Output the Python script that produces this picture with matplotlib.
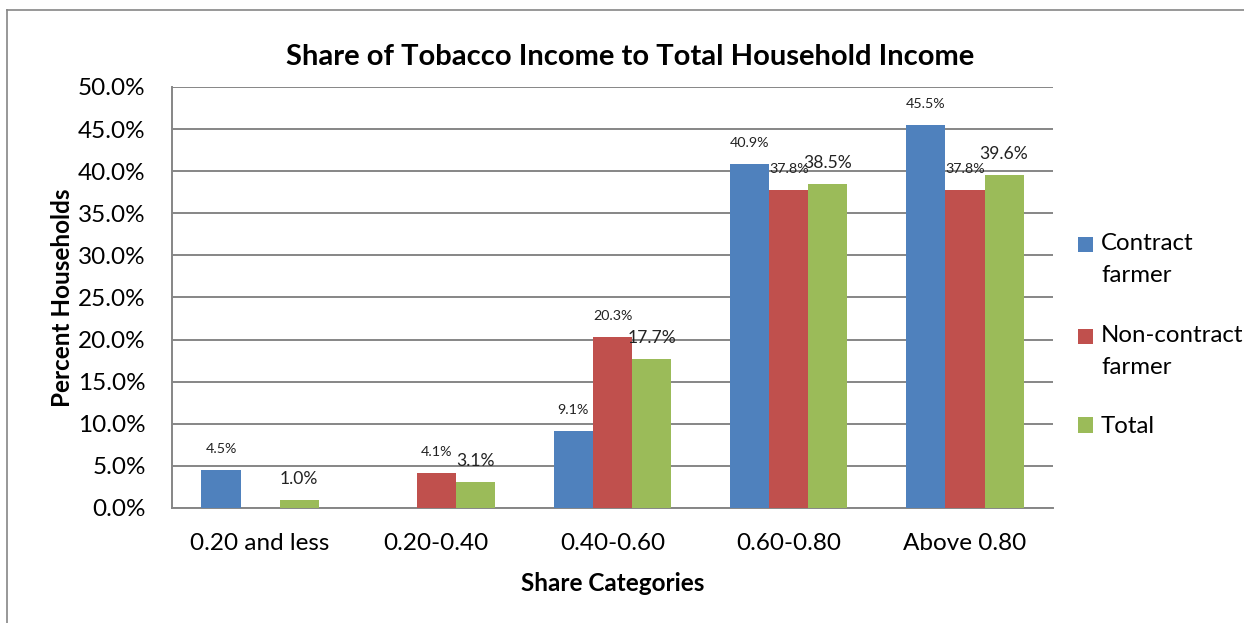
import matplotlib
matplotlib.use("Agg")
import matplotlib.pyplot as plt
from matplotlib.lines import Line2D
from matplotlib.patches import Rectangle
from matplotlib.legend_handler import HandlerPatch, update_from_first_child
from matplotlib.ticker import FuncFormatter
import numpy as np

plt.rcParams['font.family'] = ['Lato', 'DejaVu Sans']

categories = ['0.20 and less', '0.20-0.40', '0.40-0.60', '0.60-0.80', 'Above 0.80']
series_names = ['Contract\nfarmer', 'Non-contract\nfarmer', 'Total']
contract = [4.5, 0.0, 9.1, 40.9, 45.5]
non_contract = [0.0, 4.1, 20.3, 37.8, 37.8]
total = [1.0, 3.1, 17.7, 38.5, 39.6]
colors = ['#4F81BD', '#C0504D', '#9BBB59']

fig = plt.figure(figsize=[12.44, 6.23], dpi=100)
ax = fig.add_axes([0.1383, 0.1846, 0.7082, 0.6758])

x = np.arange(len(categories))
w = 0.222
all_series = [contract, non_contract, total]
label_sizes = [10.3, 10.3, 12.6]

bars = []
for i, vals in enumerate(all_series):
    pos = x + (i - 1) * w
    bars.append(ax.bar(pos, vals, width=w, color=colors[i], label=series_names[i], zorder=3))
    for p, v in zip(pos, vals):
        if v == 0:
            continue
        ax.annotate('{:.1f}%'.format(v), (p, v), xytext=(0, 21), textcoords='offset pixels',
                    ha='center', va='center', fontsize=label_sizes[i], color='#222222')

ax.set_xlim(-0.5, len(categories) - 0.5)
ax.set_ylim(0, 50)
ax.set_yticks(np.arange(0, 50.1, 5))
ax.yaxis.set_major_formatter(FuncFormatter(lambda v, p: '{:.1f}%'.format(v)))
ax.set_xticks(x)
ax.set_xticklabels(categories)
ax.tick_params(axis='both', length=0, labelsize=17.5)
ax.tick_params(axis='x', pad=18)
ax.tick_params(axis='y', pad=19)
ax.grid(axis='y', color='#868686', linewidth=1.4, zorder=0)
for s in ['top', 'right']:
    ax.spines[s].set_visible(False)
for s in ['left', 'bottom']:
    ax.spines[s].set_color('#868686')
    ax.spines[s].set_linewidth(1.4)

ax.set_title('Share of Tobacco Income to Total Household Income', fontsize=21, fontweight='bold',
             pad=16, x=0.52)
ax.set_xlabel('Share Categories', fontsize=17.5, fontweight='bold', labelpad=13)
ax.set_ylabel('Percent Households', fontsize=17.5, fontweight='bold', labelpad=3)


# two-line legend entries: square sits next to the first line, like Excel
def top_square(legend, orig_handle, xdescent, ydescent, width, height, fontsize):
    return Rectangle((-xdescent, -ydescent + 11), width, height)


top_handler = HandlerPatch(patch_func=top_square, update_func=update_from_first_child)
leg = ax.legend(loc='center left', bbox_to_anchor=(1.004, 0.41), frameon=False, fontsize=17.3,
                handlelength=0.6, handleheight=0.6, handletextpad=0.35, labelspacing=1.6,
                handler_map={bars[0]: top_handler, bars[1]: top_handler})
for t in leg.get_texts():
    t.set_linespacing(1.65)

# outer chart frame
fig.add_artist(Line2D([7 / 1244, 7 / 1244], [0, 1 - 10 / 623], color='#868686', lw=1.2))
fig.add_artist(Line2D([7 / 1244, 1], [1 - 10 / 623, 1 - 10 / 623], color='#868686', lw=1.2))

fig.savefig('out.png')
